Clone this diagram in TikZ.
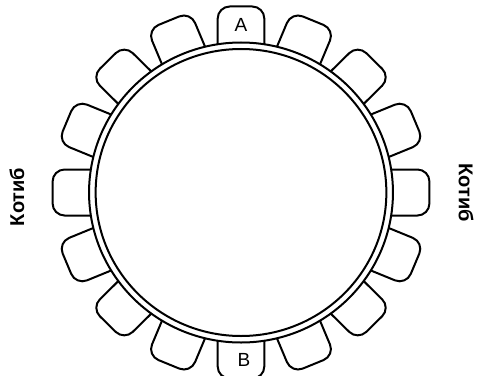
\documentclass[tikz,border=0pt]{standalone}
\usepackage{fontspec}
\setmainfont{Liberation Sans}
\usepackage{tikz}
\usetikzlibrary{positioning}
\definecolor{tableline}{HTML}{000000}

\tikzset{
  chair/.style={draw=tableline, line width=2pt, rounded corners=12pt},
  rim/.style={draw=tableline, line width=2pt},
  seatlabel/.style={font=\fontsize{19}{21}\selectfont, inner sep=0pt},
  sidelabel/.style={font=\bfseries\fontsize{20}{22}\selectfont, inner sep=0pt}
}

\begin{document}
\begin{tikzpicture}[x=1pt, y=1pt]
\useasboundingbox (-241,-182.5) rectangle (237,192.5);
\begin{scope}[xscale=1.013]
% Table rim
\draw[rim] (0,0) circle (150);
\draw[rim] (0,0) circle (143.5);
% Chairs round the table
\foreach \a in {0,22.5,...,337.5} {
    \draw[chair, rotate=\a] (-23,148) -- (-23,186) -- (23,186) -- (23,148);
}
\end{scope}
% Seat labels
\node[seatlabel] (seatA) at (0,167.5) {A};
\node[seatlabel] (seatB) at (3,-167.5) {B};
% Secretaries
\node[sidelabel, rotate=90] (kotibL) at (-224,-4.5) {Котиб};
\node[sidelabel, rotate=-90] (kotibR) at (225,0) {Котиб};
\end{tikzpicture}
\end{document}
